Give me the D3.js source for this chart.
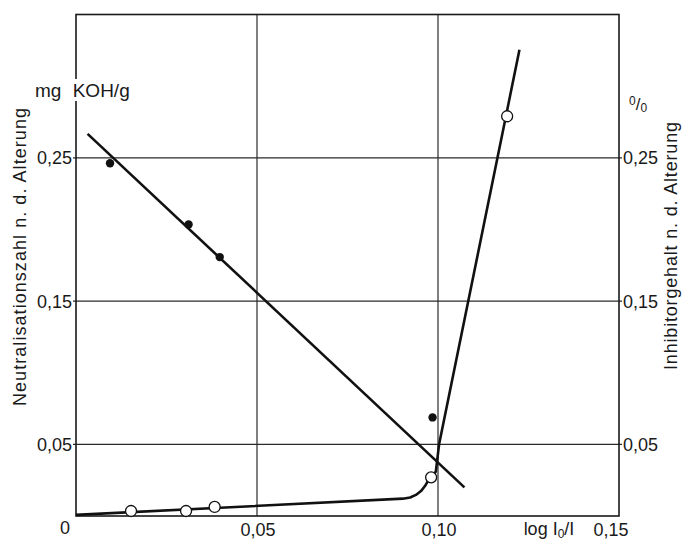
<!DOCTYPE html>
<html>
<head>
  <meta charset="utf-8">
  <title>Neutralisationszahl / Inhibitorgehalt</title>
  <script src="https://d3js.org/d3.v7.min.js"></script>
  <style>
    body { margin: 0; background: #fff; }
    svg text { font-family: "Liberation Sans", Arial, sans-serif; fill: #1a1a1a; }
    .grid line { stroke: #2a2a2a; stroke-width: 1.2px; }
    .frame { fill: none; stroke: #1a1a1a; stroke-width: 1.6px; }
    .dataline { fill: none; stroke: #111; stroke-width: 2.6px; stroke-linejoin: round; }
  </style>
</head>
<body>
  <script>
    // Neutralisationszahl (filled dots)
    var neutX = [0.0094, 0.0311, 0.0397, 0.0985];
    var neutY = [0.2462, 0.2035, 0.1807, 0.0688];
    // straight fit line through the neutralisation values
    var fitX = [0.0032, 0.1073];
    var fitY = [0.2667, 0.0200];
    // Inhibitorgehalt (open circles)
    var inhibX = [0.0152, 0.0304, 0.0383, 0.0981, 0.1191];
    var inhibY = [0.0035, 0.0035, 0.0063, 0.0270, 0.2790];
    // hand drawn curve through the inhibitor values
    var curveX = [0, 0.0903, 0.0923, 0.0939, 0.0953, 0.0964, 0.0972, 0.0981, 0.0994, 0.1003, 0.1225];
    var curveY = [0.0008, 0.0121, 0.0129, 0.0147, 0.0174, 0.0209, 0.0244, 0.0270, 0.0310, 0.0500, 0.3254];

    var gridY = [0.05, 0.15, 0.25];
    var gridX = [0.05, 0.10];
    var yTickLabels = ["0,05", "0,15", "0,25"];
    var xTickLabels = ["0,05", "0,10", "0,15"];
    var xTicks = [0.05, 0.10, 0.15];

    var W = 683, H = 540;
    var svg = d3.select("body").append("svg")
      .attr("width", W).attr("height", H);

    var x = d3.scaleLinear().domain([0, 0.15]).range([76, 619]);
    var y = d3.scaleLinear().domain([0, 0.35]).range([516, 14.5]);

    // grid
    var grid = svg.append("g").attr("class", "grid");
    grid.selectAll(".gy").data(gridY).enter().append("line")
      .attr("x1", x(0) - 3).attr("x2", x(0.15) + 3)
      .attr("y1", function(d) { return y(d); })
      .attr("y2", function(d) { return y(d); });
    grid.selectAll(".gx").data(gridX).enter().append("line")
      .attr("y1", y(0)).attr("y2", y(0.35))
      .attr("x1", function(d) { return x(d); })
      .attr("x2", function(d) { return x(d); });

    // frame
    svg.append("rect").attr("class", "frame")
      .attr("x", x(0)).attr("y", y(0.35))
      .attr("width", x(0.15) - x(0))
      .attr("height", y(0) - y(0.35));

    // left tick labels
    svg.selectAll(".ly").data(gridY).enter().append("text")
      .attr("x", x(0) - 4)
      .attr("y", function(d) { return y(d); })
      .attr("dy", "0.36em")
      .attr("text-anchor", "end")
      .style("font-size", "18px")
      .text(function(d, i) { return yTickLabels[i]; });

    // right tick labels
    svg.selectAll(".ry").data(gridY).enter().append("text")
      .attr("x", x(0.15) + 4)
      .attr("y", function(d) { return y(d); })
      .attr("dy", "0.36em")
      .style("font-size", "18px")
      .text(function(d, i) { return yTickLabels[i]; });

    // bottom tick labels
    svg.selectAll(".bx").data(xTicks).enter().append("text")
      .attr("x", function(d, i) { return i == 2 ? x(d) - 8 : x(d) + 1; })
      .attr("y", 536)
      .attr("text-anchor", "middle")
      .style("font-size", "18px")
      .text(function(d, i) { return xTickLabels[i]; });

    svg.append("text")
      .attr("x", 65).attr("y", 534)
      .attr("text-anchor", "middle")
      .style("font-size", "18px")
      .text("0");

    var xl = svg.append("text")
      .attr("x", 549).attr("y", 535)
      .attr("text-anchor", "middle")
      .style("font-size", "18px");
    xl.append("tspan").text("log I");
    xl.append("tspan").attr("dy", 3).style("font-size", "12px").text("0");
    xl.append("tspan").attr("dy", -3).text("/I");

    // units; the left axis is broken behind the unit text
    svg.append("rect")
      .attr("x", x(0) - 3).attr("y", 79)
      .attr("width", 6).attr("height", 22)
      .attr("fill", "#fff");
    var mg = svg.append("text")
      .attr("x", 35).attr("y", 97)
      .style("font-size", "19px");
    mg.append("tspan").text("mg");
    mg.append("tspan").attr("dx", 6).text(" KOH/g");

    var pc = svg.append("text")
      .attr("x", 629).attr("y", 110)
      .style("font-size", "17px");
    pc.append("tspan").attr("dy", -5).style("font-size", "12px").text("0");
    pc.append("tspan").attr("dy", 5).text("/");
    pc.append("tspan").attr("dy", 2).style("font-size", "12px").text("0");

    // axis titles
    svg.append("text")
      .attr("transform", "translate(26,257) rotate(-90)")
      .attr("text-anchor", "middle")
      .attr("textLength", 298)
      .attr("lengthAdjust", "spacing")
      .style("font-size", "18px")
      .text("Neutralisationszahl n. d. Alterung");

    svg.append("text")
      .attr("transform", "translate(677,246) rotate(-90)")
      .attr("text-anchor", "middle")
      .attr("textLength", 248)
      .attr("lengthAdjust", "spacing")
      .style("font-size", "18px")
      .text("Inhibitorgehalt n. d. Alterung");

    var line = d3.line()
      .x(function(d) { return x(d[0]); })
      .y(function(d) { return y(d[1]); });

    // fit line
    svg.append("path").attr("class", "dataline")
      .datum(fitX.map(function(v, i) { return [v, fitY[i]]; }))
      .attr("d", line);

    // inhibitor curve
    svg.append("path").attr("class", "dataline")
      .datum(curveX.map(function(v, i) { return [v, curveY[i]]; }))
      .attr("d", line);

    // filled dots
    svg.selectAll(".nd").data(neutX).enter().append("circle")
      .attr("cx", function(d) { return x(d); })
      .attr("cy", function(d, i) { return y(neutY[i]); })
      .attr("r", 4.2)
      .attr("fill", "#111");

    // open circles
    svg.selectAll(".od").data(inhibX).enter().append("circle")
      .attr("cx", function(d) { return x(d); })
      .attr("cy", function(d, i) { return y(inhibY[i]); })
      .attr("r", 5.5)
      .attr("fill", "#fff")
      .attr("stroke", "#111")
      .attr("stroke-width", 1.3);
  </script>
</body>
</html>
